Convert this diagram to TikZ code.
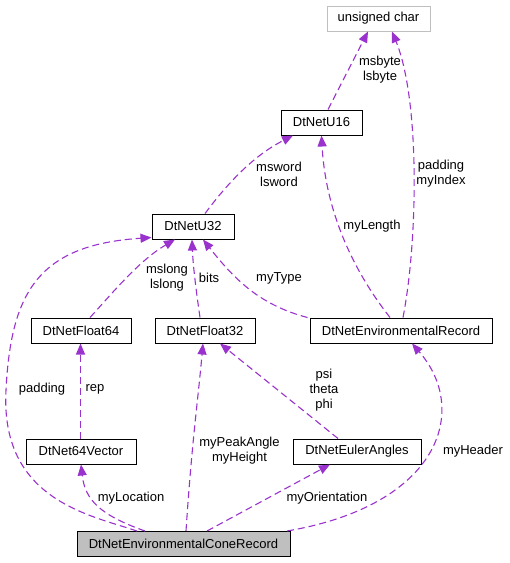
\documentclass[tikz,border=0pt]{standalone}
\usepackage{fontspec}
\setmainfont{Liberation Sans}
\usetikzlibrary{arrows.meta}
\definecolor{edgepurple}{HTML}{9A32CD}
\definecolor{boxgray}{HTML}{BFBFBF}

\begin{document}
\begin{tikzpicture}[x=1pt,y=-1pt]
				\tikzstyle{cls}=[rectangle,draw=black,line width=1pt,minimum height=25pt,inner sep=0pt,font=\fontsize{13}{15}\selectfont]
				\tikzstyle{ext}=[cls,draw=boxgray]
				\tikzstyle{lbl}=[align=center,inner sep=0pt,font=\fontsize{13}{15}\selectfont]
				\tikzstyle{use}=[draw=edgepurple,line width=1.1pt,dash pattern=on 7pt off 4pt,-{Triangle[length=11pt,width=9pt,fill=edgepurple]}]
				\useasboundingbox (0,0) rectangle (510,563);
				% classes
				\node[ext,minimum width=103pt] (uchar) at (378.5,18.5) {unsigned char};
				\node[cls,minimum width=81pt] (u16) at (321.5,122.5) {DtNetU16};
				\node[cls,minimum width=82pt] (u32) at (193,226.5) {DtNetU32};
				\node[cls,minimum width=100pt] (f64) at (81,330.5) {DtNetFloat64};
				\node[cls,minimum width=100pt] (f32) at (205,330.5) {DtNetFloat32};
				\node[cls,minimum width=182pt] (rec) at (401,330.5) {DtNetEnvironmentalRecord};
				\node[cls,minimum width=110pt] (vec) at (81,451.5) {DtNet64Vector};
				\node[cls,minimum width=128pt] (euler) at (357,451.5) {DtNetEulerAngles};
				\node[cls,fill=boxgray,minimum width=213pt] (cone) at (183.5,544) {DtNetEnvironmentalConeRecord};
				% members
				\draw[use] ([xshift=6.5]u16.north) -- ([xshift=-10.5]uchar.south);
				\draw[use] ([xshift=2]rec.north) .. controls (418,240) and (420,100) .. ([xshift=13.5]uchar.south);
				\draw[use] ([xshift=12]u32.north) .. controls (230,180) and (255,155) .. ([xshift=-28.5]u16.south);
				\draw[use] ([xshift=-11]rec.north) .. controls (345,260) and (325,200) .. (u16.south);
				\draw[use] ([xshift=9]f64.north) .. controls (115,290) and (140,260) .. ([xshift=-18]u32.south);
				\draw[use] ([xshift=-5]f32.north) .. controls (196,290) and (193,265) .. ([xshift=-1]u32.south);
				\draw[use] ([xshift=-2]rec.north west) .. controls (260,305) and (235,280) .. ([xshift=10]u32.south);
				\draw[use] ([xshift=-46.5]cone.north) .. controls (90,515) and (0,500) .. (6,390) .. controls (11,290) and (40,245) .. ([yshift=2]u32.south west);
				\draw[use] ([xshift=-0.5]vec.north) -- ([xshift=-0.5]f64.south);
				\draw[use] ([xshift=2.5]cone.north) .. controls (192,440) and (198,400) .. ([xshift=-2]f32.south);
				\draw[use] ([xshift=-19]euler.north) -- ([xshift=15]f32.south);
				\draw[use] ([xshift=-38.5]cone.north) .. controls (100,515) and (85,500) .. (vec.south);
				\draw[use] ([xshift=23.5]cone.north) -- ([xshift=-27]euler.south);
				\draw[use] ([xshift=103.5]cone.north) .. controls (440,505) and (470,410) .. ([xshift=11]rec.south);
				% labels
				\node[lbl] (lbyte) at (380,70) {msbyte\\lsbyte};
				\node[lbl] (lidx) at (441,174) {padding\\myIndex};
				\node[lbl] (lword) at (279,174) {msword\\lsword};
				\node[lbl] (llen) at (372,226) {myLength};
				\node[lbl] (llong) at (167,278) {mslong\\lslong};
				\node[lbl] (lbits) at (209,278) {bits};
				\node[lbl] (ltype) at (279,278) {myType};
				\node[lbl] (lpad) at (42,389) {padding};
				\node[lbl] (lrep) at (95,389) {rep};
				\node[lbl] (lpeak) at (239.5,451) {myPeakAngle\\myHeight};
				\node[lbl] (leuler) at (324,390) {psi\\theta\\phi};
				\node[lbl] (lloc) at (131,498) {myLocation};
				\node[lbl] (lori) at (327,498) {myOrientation};
				\node[lbl] (lhead) at (473,451) {myHeader};
\end{tikzpicture}
\end{document}
